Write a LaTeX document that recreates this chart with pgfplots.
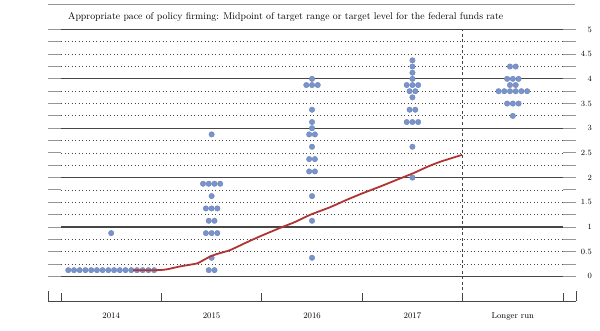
\documentclass[border=0pt]{standalone}
\usepackage{pgfplots}
\pgfplotsset{compat=1.18}
\definecolor{dotblue}{RGB}{121,148,205}
\definecolor{fedred}{RGB}{176,52,52}
\definecolor{gridgray}{RGB}{70,70,70}
\definecolor{endgray}{RGB}{150,150,150}
\begin{document}
\begin{tikzpicture}
\begin{axis}[
 set layers,
 scale only axis, width=528pt, height=271.5pt,
 xmin=-0.6295, xmax=4.629, ymin=-0.5, ymax=5,
 axis x line*=bottom, axis y line*=right,
 axis line style={draw=none}, tick style={draw=none},
 xtick={0,1,2,3,4}, xticklabels={2014,2015,2016,2017,Longer run},
 ytick={0,0.5,1,1.5,2,2.5,3,3.5,4,4.5,5},
 yticklabel style={anchor=east, inner sep=0pt, xshift=16pt, font=\fontsize{8}{9}\selectfont},
 xticklabel style={anchor=base, inner sep=0pt, yshift=-17.7pt, font=\fontsize{8.5}{9}\selectfont},
 /pgf/number format/assume math mode=true,
 clip=false,
]
% end segments of every line
\pgfplotsinvokeforeach{0,0.25,0.5,0.75,1,1.25,1.5,1.75,2,2.25,2.5,2.75,3,3.25,3.5,3.75,4,4.25,4.5,4.75,5}{
  \draw[endgray, line width=0.9pt] (axis cs:-0.6295,#1) -- (axis cs:-0.5,#1);
  \draw[endgray, line width=0.9pt] (axis cs:4.5,#1) -- (axis cs:4.629,#1);
}
\pgfplotsinvokeforeach{0.25,0.5,0.75,1.25,1.5,1.75,2.25,2.5,2.75,3.25,3.5,3.75,4.25,4.5,4.75}{
  \draw[gridgray, line width=0.8pt, dash pattern=on 0.9pt off 2.6pt] (axis cs:-0.5,#1) -- (axis cs:4.5,#1);
}
\pgfplotsinvokeforeach{0,1,2,3,4,5}{
  \draw[gridgray, line width=1.1pt] (axis cs:-0.5,#1) -- (axis cs:4.5,#1);
}
% dashed separator
\draw[gridgray, line width=0.9pt, dash pattern=on 3pt off 2.5pt] (axis cs:3.5,-0.5) -- (axis cs:3.5,5);
% bottom axis
\draw[gridgray, line width=0.8pt] (axis cs:-0.6295,-0.5) -- (axis cs:4.629,-0.5);
\pgfplotsinvokeforeach{-0.5,0.5,1.5,2.5,3.5,4.5}{
  \draw[gridgray, line width=0.8pt] (axis cs:#1,-0.5) -- ++(0pt,8pt);
}
\draw[gridgray, line width=0.8pt] (axis cs:-0.6295,-0.5) -- ++(0pt,10pt);
\draw[gridgray, line width=0.8pt] (axis cs:4.629,-0.5) -- ++(0pt,10pt);

% dots
\addplot[only marks, mark=*, mark size=2.75pt, mark options={fill=dotblue, draw=dotblue!85!black, line width=0.3pt}] coordinates {
(-0.4275,0.125)(-0.3705,0.125)(-0.3135,0.125)(-0.2565,0.125)(-0.1995,0.125)(-0.1425,0.125)(-0.0855,0.125)(-0.0285,0.125)
(0.0285,0.125)(0.0855,0.125)(0.1425,0.125)(0.1995,0.125)(0.2565,0.125)(0.3135,0.125)(0.3705,0.125)(0.4275,0.125)
(0,0.875)
(1,2.875)
(0.9145,1.875)(0.9715,1.875)(1.0285,1.875)(1.0855,1.875)
(1,1.625)
(0.943,1.375)(1,1.375)(1.057,1.375)
(0.9715,1.125)(1.0285,1.125)
(0.943,0.875)(1,0.875)(1.057,0.875)
(1,0.375)
(0.9715,0.125)(1.0285,0.125)
(2,4)
(1.943,3.875)(2,3.875)(2.057,3.875)
(2,3.375)(2,3.125)(2,3)
(1.9715,2.875)(2.0285,2.875)
(2,2.625)
(1.9715,2.375)(2.0285,2.375)
(1.9715,2.125)(2.0285,2.125)
(2,1.625)(2,1.125)(2,0.375)
(3,4.375)(3,4.25)(3,4.125)(3,4)
(2.943,3.875)(3,3.875)(3.057,3.875)
(2.9715,3.75)(3.0285,3.75)
(3,3.625)
(2.9715,3.375)(3.0285,3.375)
(2.943,3.125)(3,3.125)(3.057,3.125)
(3,2.625)(3,2)
(3.9715,4.25)(4.0285,4.25)
(3.943,4)(4,4)(4.057,4)
(3.9715,3.875)(4.0285,3.875)
(3.8575,3.75)(3.9145,3.75)(3.9715,3.75)(4.0285,3.75)(4.0855,3.75)(4.1425,3.75)
(3.943,3.5)(4,3.5)(4.057,3.5)
(4,3.25)
};
% market path
\addplot[fedred, line width=1.8pt, smooth, tension=0.3, on layer=axis foreground] coordinates {
(0.217,0.125)(0.456,0.125)(0.55,0.14)(0.685,0.2)(0.852,0.26)(0.92,0.33)(0.984,0.40)(1.05,0.45)(1.183,0.53)(1.33,0.67)(1.482,0.81)(1.681,0.98)(1.83,1.1)(1.98,1.245)(2.18,1.40)(2.346,1.55)(2.5,1.68)(2.68,1.82)(2.85,1.96)(3.01,2.09)(3.15,2.22)(3.275,2.32)(3.494,2.46)
};
\end{axis}
\draw[endgray, line width=1.3pt] (0pt,296.4pt) -- (527pt,296.4pt);
\node[anchor=west, inner sep=0pt, font=\fontsize{9.8}{11}\selectfont] at (20pt,284pt) {Appropriate pace of policy firming: Midpoint of target range or target level for the federal funds rate};
\pgfresetboundingbox
\path[use as bounding box] (-48pt,-29pt) rectangle (552pt,301pt);
\end{tikzpicture}
\end{document}
